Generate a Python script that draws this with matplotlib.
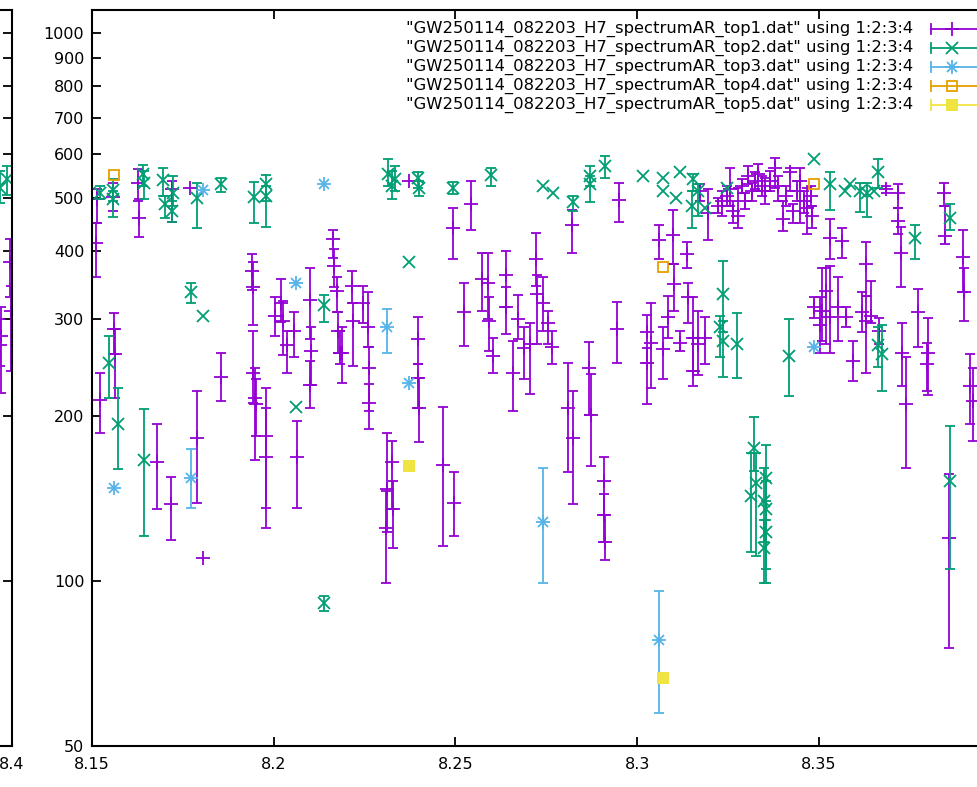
import numpy as np
import matplotlib.pyplot as plt
from matplotlib.lines import Line2D

# each row: x, y, y_low, y_high   (gnuplot "using 1:2:3:4")
top1 = np.array([
    [8.1514, 498, 450, 519], [8.1511, 414, 359, 450], [8.1522, 214, 186, 240],
    [8.1561, 288, 259, 308], [8.1563, 259, 216, 288], [8.1558, 502, 473, 532],
    [8.1627, 532, 494, 565], [8.1629, 460, 424, 498], [8.1679, 165, 135, 193],
    [8.1717, 138, 119, 155], [8.1720, 519, 452, 537], [8.1770, 521, 521, 521],
    [8.1789, 182, 139, 222], [8.1805, 110, 110, 110], [8.1855, 236, 213, 261],
    [8.1940, 367, 340, 394], [8.1943, 344, 293, 381], [8.1943, 240, 211, 286],
    [8.1949, 216, 166, 245], [8.1951, 210, 184, 234], [8.1979, 184, 136, 225],
    [8.1979, 168, 125, 207], [8.2020, 322, 297, 355], [8.2026, 298, 258, 324],
    [8.2037, 269, 240, 286], [8.2056, 286, 256, 310], [8.2064, 168, 136, 196],
    [8.2100, 326, 276, 372], [8.2103, 263, 228, 291], [8.2100, 228, 207, 252],
    [8.2163, 421, 389, 437], [8.2166, 376, 343, 404], [8.2174, 338, 309, 358],
    [8.2177, 286, 261, 309], [8.2182, 261, 249, 286], [8.2188, 260, 230, 290],
    [8.2215, 345, 321, 368], [8.2218, 298, 247, 321], [8.2246, 321, 295, 345],
    [8.2259, 291, 267, 336], [8.2262, 245, 204, 267], [8.2262, 211, 189, 229],
    [8.2312, 147, 123, 186], [8.2309, 125, 99, 146], [8.2326, 165, 135, 180],
    [8.2328, 135, 115, 152], [8.2372, 537, 537, 537], [8.2397, 276, 249, 303],
    [8.2397, 235, 207, 249], [8.2400, 207, 179, 235], [8.2466, 163, 116, 208],
    [8.2496, 139, 121, 158], [8.2494, 441, 386, 479], [8.2524, 309, 268, 350],
    [8.2543, 486, 437, 537], [8.2573, 355, 311, 397], [8.2590, 350, 300, 397],
    [8.2593, 298, 263, 329], [8.2604, 257, 239, 278], [8.2639, 362, 316, 399],
    [8.2639, 316, 282, 343], [8.2659, 240, 204, 274], [8.2672, 300, 276, 333],
    [8.2689, 266, 234, 290], [8.2705, 271, 219, 296], [8.2722, 386, 345, 432],
    [8.2725, 334, 271, 362], [8.2741, 322, 286, 359], [8.2755, 295, 271, 311],
    [8.2766, 267, 249, 286], [8.2810, 207, 158, 250], [8.2824, 182, 138, 222],
    [8.2909, 152, 132, 168], [8.2909, 132, 118, 144], [8.2912, 118, 109, 132],
    [8.2867, 245, 201, 273], [8.2873, 201, 162, 238], [8.2821, 446, 397, 475],
    [8.2950, 496, 452, 532], [8.2945, 288, 250, 323], [8.3060, 419, 386, 446],
    [8.3099, 428, 378, 475], [8.3102, 348, 311, 378], [8.3027, 284, 250, 305],
    [8.3027, 250, 210, 266], [8.3038, 272, 225, 321], [8.3071, 265, 234, 290],
    [8.3085, 303, 277, 331], [8.3137, 394, 373, 415], [8.3195, 468, 419, 519],
    [8.3118, 272, 263, 286], [8.3140, 329, 295, 349], [8.3154, 278, 242, 329],
    [8.3154, 242, 227, 278], [8.3167, 271, 237, 311], [8.3187, 277, 249, 303],
    [8.3173, 515, 494, 530], [8.3223, 483, 468, 500], [8.3234, 494, 464, 515],
    [8.3247, 504, 483, 526], [8.3256, 519, 483, 567], [8.3264, 473, 450, 494],
    [8.3278, 464, 441, 521], [8.3289, 526, 511, 542], [8.3297, 494, 477, 511],
    [8.3305, 548, 530, 572], [8.3316, 515, 494, 532], [8.3324, 537, 519, 556],
    [8.3333, 553, 515, 577], [8.3344, 526, 504, 548], [8.3352, 515, 488, 544],
    [8.3366, 537, 515, 560], [8.3379, 567, 521, 592], [8.3388, 526, 494, 548],
    [8.3402, 458, 435, 494], [8.3410, 504, 483, 526], [8.3421, 556, 515, 567],
    [8.3429, 473, 450, 488], [8.3440, 515, 494, 537], [8.3448, 537, 450, 567],
    [8.3459, 494, 469, 515], [8.3467, 479, 430, 521], [8.3478, 504, 483, 526],
    [8.3481, 464, 441, 483], [8.3530, 423, 387, 458], [8.3565, 417, 389, 441],
    [8.3717, 509, 479, 530], [8.3717, 454, 430, 479], [8.3725, 397, 344, 443],
    [8.3684, 519, 511, 526], [8.3844, 509, 483, 532], [8.3847, 426, 412, 483],
    [8.3896, 390, 336, 437], [8.3899, 336, 298, 372], [8.3521, 338, 271, 373],
    [8.3532, 303, 260, 376], [8.3510, 311, 274, 372], [8.3552, 316, 274, 359],
    [8.3488, 316, 302, 329], [8.3502, 293, 260, 329], [8.3576, 303, 290, 316],
    [8.3593, 252, 232, 274], [8.3618, 309, 284, 336], [8.3631, 378, 331, 415],
    [8.3631, 298, 240, 331], [8.3645, 304, 295, 352], [8.3667, 286, 271, 302],
    [8.3728, 261, 227, 296], [8.3739, 210, 161, 256], [8.3772, 309, 267, 341],
    [8.3800, 261, 218, 302], [8.3797, 249, 222, 272], [8.3915, 227, 193, 259],
    [8.3924, 213, 180, 245], [8.3858, 120, 75.5, 157], [8.2004, 304, 280, 329],
    [8.3995, 381, 329, 421], [8.3996, 311, 242, 345], [8.3970, 280, 220, 316],
    [8.3968, 269, 247, 300],
])

top2 = np.array([
    [8.1522, 511, 498, 526], [8.1558, 517, 494, 542], [8.1558, 498, 462, 515],
    [8.1547, 250, 216, 280], [8.1572, 193, 160, 225], [8.1640, 553, 526, 574],
    [8.1643, 532, 498, 560], [8.1695, 539, 504, 567], [8.1701, 488, 460, 504],
    [8.1723, 511, 483, 548], [8.1720, 473, 452, 494], [8.1643, 166, 121, 206],
    [8.1772, 336, 322, 350], [8.1805, 304, 304, 304], [8.1789, 500, 441, 532],
    [8.1855, 530, 513, 544], [8.1946, 502, 450, 535], [8.1979, 530, 494, 551],
    [8.1979, 504, 443, 526], [8.2138, 318, 297, 333], [8.2061, 208, 208, 208],
    [8.2138, 91, 88, 94], [8.2315, 553, 526, 589], [8.2326, 526, 498, 560],
    [8.2334, 542, 515, 572], [8.2397, 544, 521, 556], [8.2400, 521, 504, 537],
    [8.2372, 381, 381, 381], [8.2494, 521, 507, 535], [8.2598, 551, 526, 567],
    [8.2741, 526, 526, 526], [8.2769, 511, 511, 511], [8.2824, 492, 473, 504],
    [8.2870, 548, 526, 572], [8.2870, 530, 492, 548], [8.2912, 572, 544, 597],
    [8.3016, 548, 548, 548], [8.3071, 544, 544, 544], [8.3071, 515, 515, 515],
    [8.3118, 558, 558, 558], [8.3107, 500, 500, 500], [8.3154, 542, 515, 553],
    [8.3151, 483, 441, 515], [8.3167, 515, 464, 530], [8.3187, 479, 479, 479],
    [8.3247, 521, 521, 521], [8.3236, 334, 284, 383], [8.3228, 290, 256, 304],
    [8.3236, 274, 236, 298], [8.3275, 271, 235, 308], [8.3417, 257, 217, 300],
    [8.3321, 175, 159, 199], [8.3313, 143, 113, 171], [8.3326, 151, 111, 171],
    [8.3354, 154, 129, 177], [8.3348, 140, 118, 161], [8.3354, 135, 105, 152],
    [8.3356, 123, 99, 140], [8.3348, 115, 99, 129], [8.3488, 589, 589, 589],
    [8.3530, 530, 475, 558], [8.3571, 515, 515, 515], [8.3585, 530, 530, 530],
    [8.3612, 515, 471, 532], [8.3634, 509, 462, 532], [8.3653, 515, 515, 515],
    [8.3664, 558, 521, 589], [8.3764, 423, 387, 445], [8.3860, 460, 437, 488],
    [8.3675, 259, 222, 293], [8.3662, 269, 246, 290], [8.3860, 152, 105, 192],
    [8.3968, 521, 490, 560], [8.3985, 542, 505, 572],
])

top3 = np.array([
    [8.1561, 148, 148, 148], [8.1772, 154, 136, 174], [8.1805, 517, 517, 517],
    [8.2138, 530, 530, 530], [8.2061, 350, 350, 350], [8.2312, 291, 261, 313],
    [8.2372, 230, 230, 230], [8.2741, 128, 99, 161], [8.3060, 78, 57.4, 96],
    [8.3486, 267, 267, 267],
])

top4 = np.array([
    [8.1561, 551, 551, 551], [8.3071, 374, 374, 374], [8.3486, 530, 530, 530],
])

top5 = np.array([
    [8.2372, 162, 162, 162], [8.3071, 66.5, 66.5, 66.5],
])

labels = ['"GW250114_082203_H7_spectrumAR_top%d.dat" using 1:2:3:4' % i
          for i in range(1, 6)]
colors = ['#9400d3', '#009e73', '#56b4e9', '#e69f00', '#f0e442']
series = [top1, top2, top3, top4, top5]

xticks = [8.15, 8.2, 8.25, 8.3, 8.35, 8.4]
xticklabels = ['8.15', '8.2', '8.25', '8.3', '8.35', '8.4']
yticks = [50, 100, 200, 300, 400, 500, 600, 700, 800, 900, 1000]

FS = 11.5
LW = 1.3


def markers(ax, x, y, i, c):
    if i == 0:
        ax.plot(x, y, ls='none', marker='+', ms=9.5, mew=LW, color=c)
    elif i == 1:
        ax.plot(x, y, ls='none', marker='x', ms=8, mew=LW, color=c)
    elif i == 2:
        ax.plot(x, y, ls='none', marker='+', ms=9.5, mew=LW, color=c)
        ax.plot(x, y, ls='none', marker='x', ms=7, mew=LW, color=c)
    elif i == 3:
        ax.plot(x, y, ls='none', marker='s', ms=7.5, mew=LW, color=c, mfc='none')
    else:
        ax.plot(x, y, ls='none', marker='s', ms=8, mew=0, color=c)


def draw(ax):
    for i, (d, c) in enumerate(zip(series, colors)):
        x, y, lo, hi = d.T
        has = hi > lo
        ax.errorbar(x[has], y[has], yerr=[y[has] - lo[has], hi[has] - y[has]],
                    fmt='none', ecolor=c, elinewidth=LW, capsize=3.8, capthick=LW)
        markers(ax, x, y, i, c)
    ax.set_yscale('log')
    ax.set_xlim(8.15, 8.4)
    ax.set_ylim(50, 1100)
    ax.set_xticks(xticks)
    ax.set_xticklabels(xticklabels)
    ax.set_yticks(yticks)
    ax.set_yticklabels([str(v) for v in yticks])
    ax.yaxis.set_minor_locator(plt.NullLocator())
    ax.tick_params(direction='in', length=6.5, width=1.3, top=True, right=True,
                   labelsize=FS, colors='black')
    ax.tick_params(axis='x', pad=8)
    ax.tick_params(axis='y', pad=5.5)
    for s in ax.spines.values():
        s.set_linewidth(1.5)


fig = plt.figure(figsize=(9.78, 7.87), dpi=100)
W, H = 978.0, 787.0
axw = 908.5 / W
bot = 41 / H
hgt = 736 / H

# previous tile: only its right edge shows at the left of the picture
ax0 = fig.add_axes([(12 - 908.5) / W, bot, axw, hgt])
draw(ax0)
ax0.set_xticklabels([''] * 5 + ['8.4'])
ax0.tick_params(labelleft=False)

ax = fig.add_axes([92 / W, bot, axw, hgt])
draw(ax)
ax.set_xticklabels(xticklabels[:-1] + [''])  # 8.4 falls outside the picture

# key, top right
rows = [29, 48, 67, 86, 105]
for i, (lab, c, yr) in enumerate(zip(labels, colors, rows)):
    yf = 1 - yr / H
    fig.text(913 / W, yf, lab, ha='right', va='center', fontsize=11.8)
    fig.add_artist(Line2D([931 / W, 995 / W], [yf, yf], color=c, lw=LW))
    fig.add_artist(Line2D([931 / W, 931 / W], [yf - 5 / H, yf + 5 / H], color=c, lw=LW))
    mk = ['+', 'x', '+', 's', 's'][i]
    ms = [9.5, 8, 9.5, 7.5, 8][i]
    mfc = 'none' if i == 3 else c
    fig.add_artist(Line2D([952 / W], [yf], marker=mk, ms=ms, mew=LW if i != 4 else 0,
                          color=c, mfc=mfc, ls='none'))
    if i == 2:
        fig.add_artist(Line2D([952 / W], [yf], marker='x', ms=7, mew=LW,
                              color=c, ls='none'))

fig.savefig('out.png', dpi=100)
